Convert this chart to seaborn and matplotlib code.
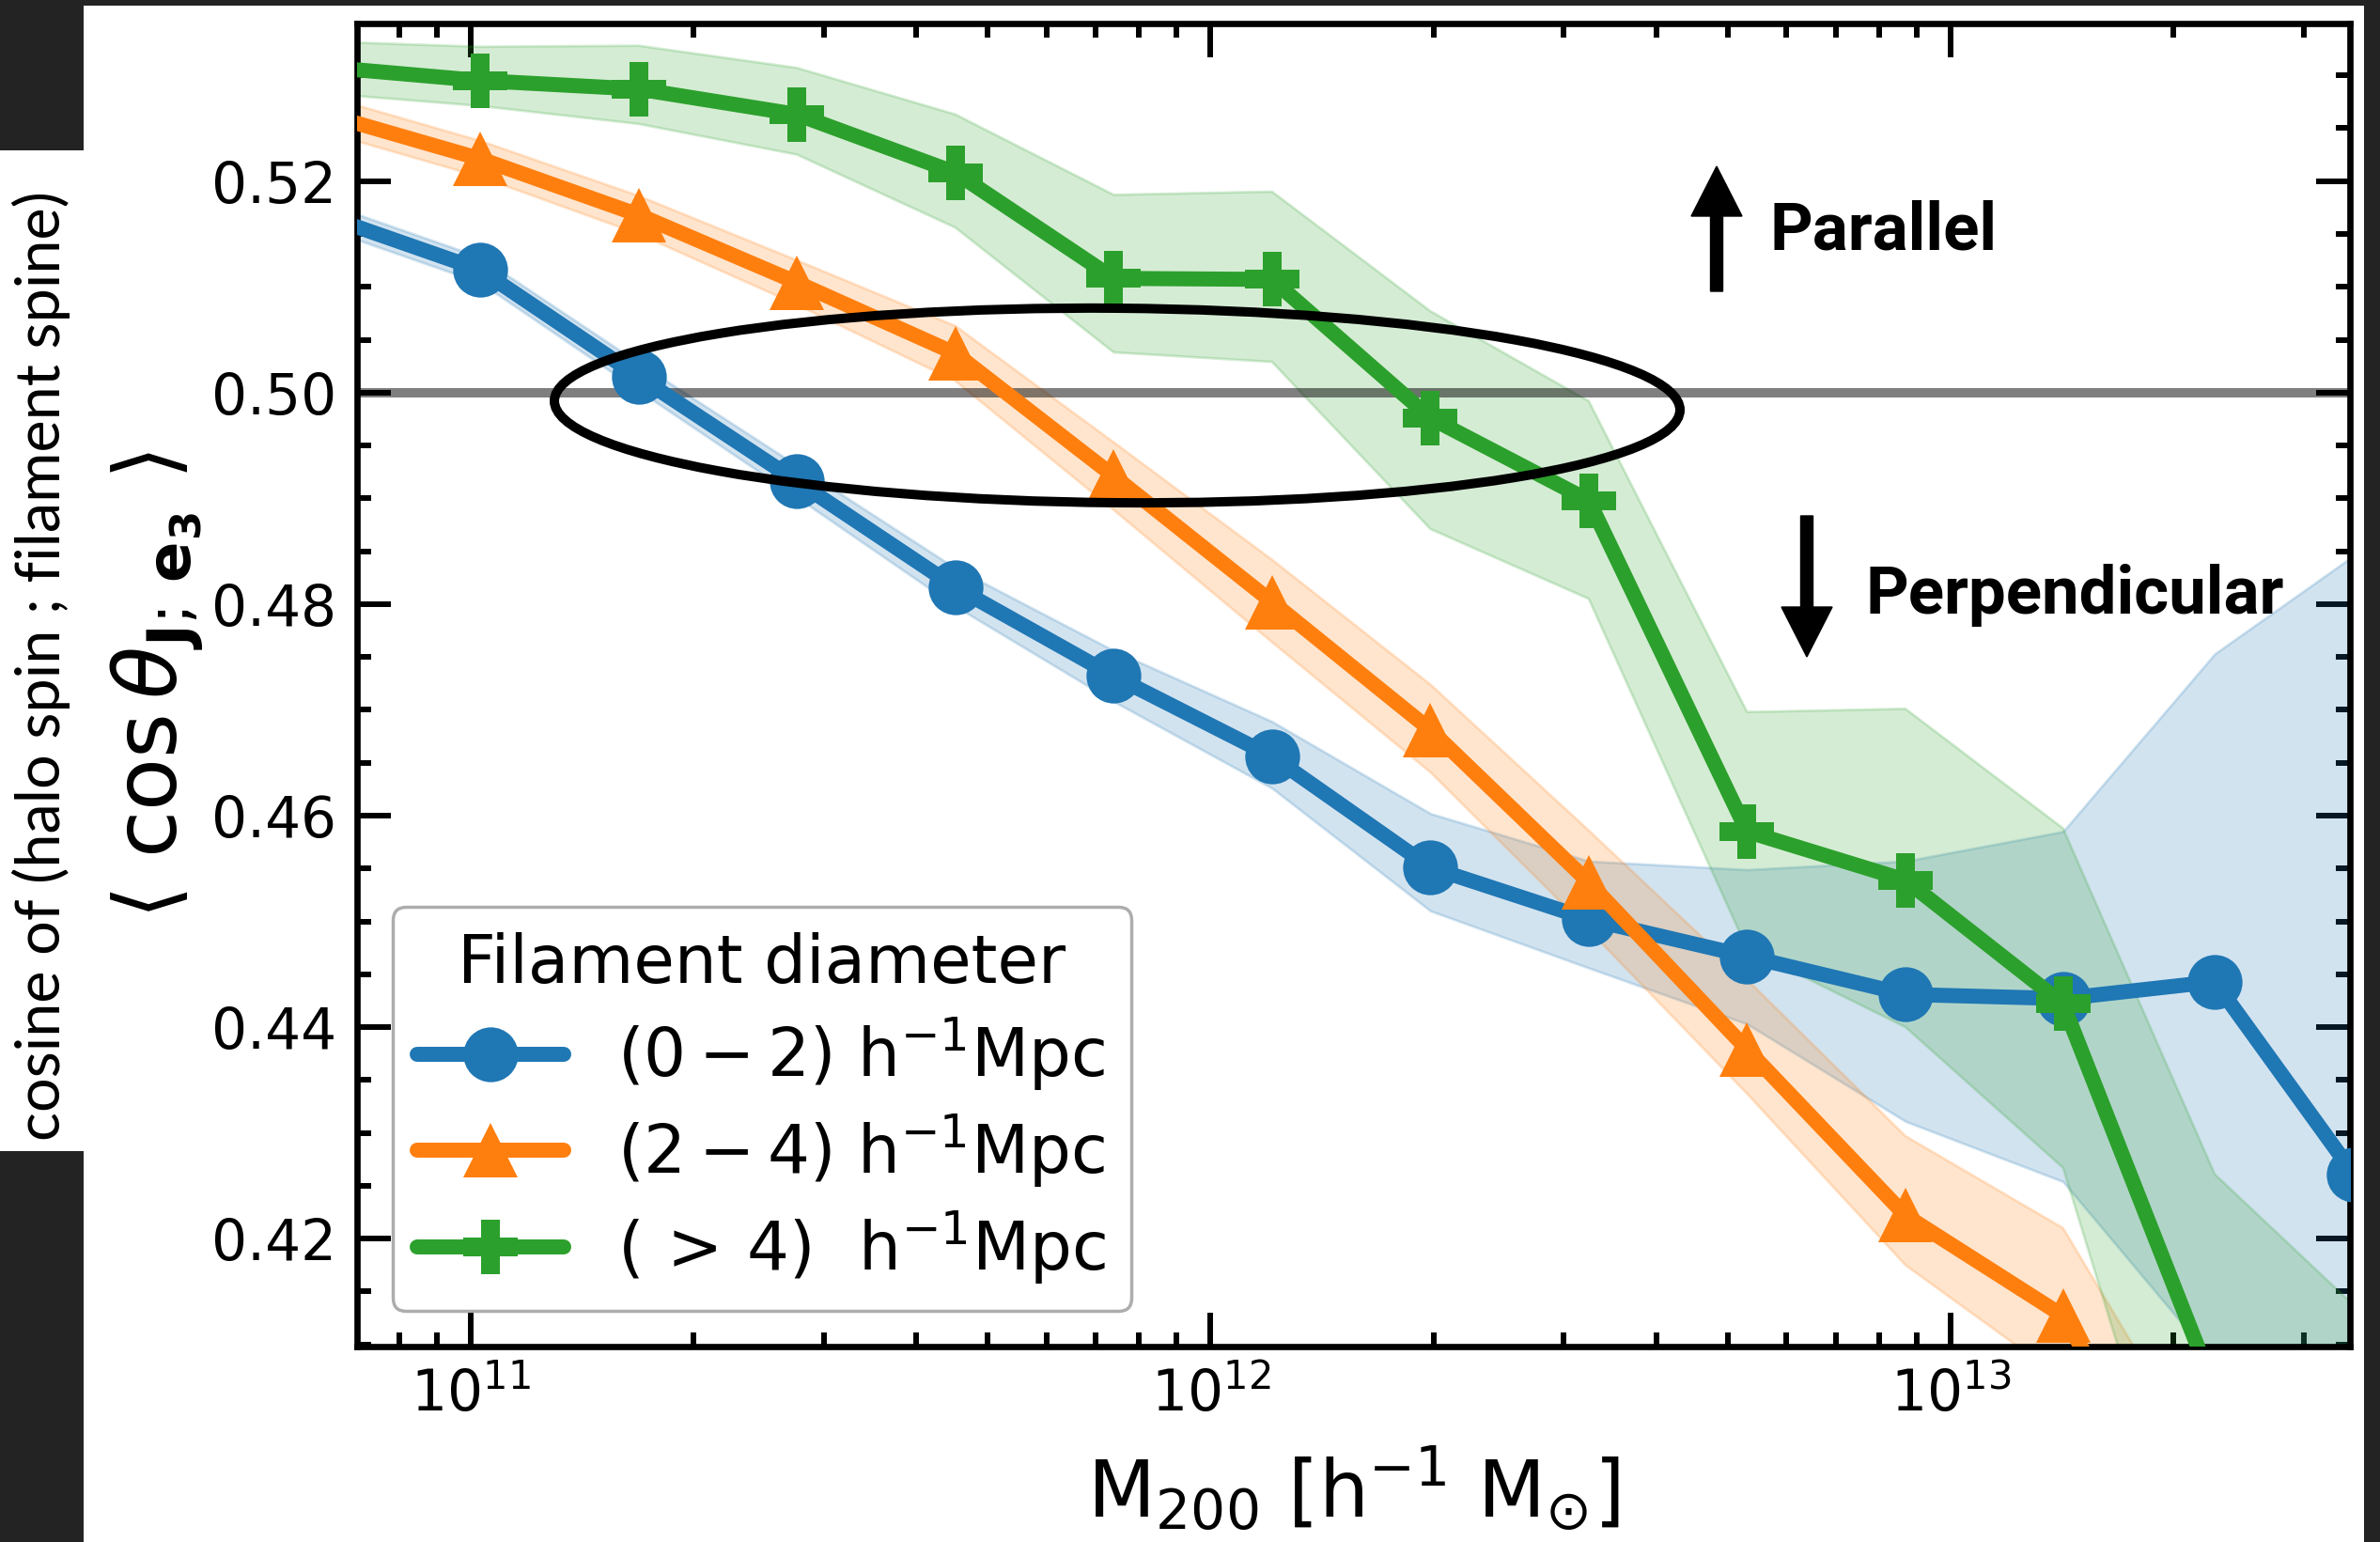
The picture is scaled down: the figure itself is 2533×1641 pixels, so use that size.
import numpy as np
import pandas as pd
import matplotlib
matplotlib.use("Agg")
import matplotlib.pyplot as plt
import seaborn as sns
from matplotlib import font_manager
from matplotlib.patches import Ellipse, FancyArrow, Rectangle
from matplotlib.ticker import MultipleLocator, LogLocator, NullFormatter

# halo mass bins (log10 M200 [h^-1 Msun])
log_m200 = [10.800, 11.013, 11.227, 11.441, 11.655, 11.869, 12.083,
            12.297, 12.511, 12.725, 12.939, 13.152, 13.357, 13.545]

# mean cosine of the spin / spine angle and its band, per filament diameter
thin_mean = [0.5168, 0.5116, 0.5015, 0.4916, 0.4816, 0.4732, 0.4656,
             0.4551, 0.4502, 0.4467, 0.4431, 0.4427, 0.4443, 0.4261]
thin_lo = [0.5156, 0.5104, 0.5002, 0.4901, 0.4798, 0.4708, 0.4626,
           0.4510, 0.4456, 0.4403, 0.4311, 0.4254, 0.4083, 0.3950]
thin_hi = [0.5180, 0.5128, 0.5028, 0.4931, 0.4834, 0.4756, 0.4689,
           0.4602, 0.4557, 0.4549, 0.4557, 0.4585, 0.4753, 0.4846]

mid_mean = [0.5264, 0.5221, 0.5168, 0.5104, 0.5037, 0.4921, 0.4802,
            0.4681, 0.4537, 0.4379, 0.4222, 0.4127, 0.3880, 0.3770]
mid_lo = [0.5247, 0.5204, 0.5150, 0.5083, 0.5011, 0.4889, 0.4764,
          0.4641, 0.4492, 0.4337, 0.4175, 0.4067, 0.3790, 0.3680]
mid_hi = [0.5281, 0.5238, 0.5186, 0.5125, 0.5063, 0.4953, 0.4842,
          0.4724, 0.4586, 0.4445, 0.4297, 0.4210, 0.3970, 0.3850]

thick_mean = [0.5308, 0.5295, 0.5287, 0.5263, 0.5208, 0.5108, 0.5107,
              0.4976, 0.4898, 0.4585, 0.4539, 0.4422, 0.4057, 0.3900]
thick_lo = [0.5283, 0.5271, 0.5254, 0.5225, 0.5156, 0.5038, 0.5029,
            0.4871, 0.4805, 0.4474, 0.4400, 0.4267, 0.3800, 0.3600]
thick_hi = [0.5332, 0.5327, 0.5328, 0.5307, 0.5263, 0.5187, 0.5190,
            0.5077, 0.4992, 0.4698, 0.4701, 0.4588, 0.4261, 0.4137]

diameter_labels = [r"$(0-2)\ \mathrm{h^{-1}Mpc}$",
                   r"$(2-4)\ \mathrm{h^{-1}Mpc}$",
                   r"$(\,>\,4)\ \ \mathrm{h^{-1}Mpc}$"]
colors = ["#1f77b4", "#ff7f0e", "#2ca02c"]
markers = ["o", "^", "P"]

sns.set_style("ticks")
plt.rcParams.update({
    "font.family": ["DejaVu Sans"],
    "mathtext.fontset": "dejavusans",
    "text.color": "black",
    "axes.labelcolor": "black",
    "xtick.color": "black",
    "ytick.color": "black",
    "axes.edgecolor": "black",
})


def pick_family(candidates):
    for fam in candidates:
        try:
            font_manager.findfont(font_manager.FontProperties(family=fam, weight="bold"),
                                  fallback_to_default=False)
            return fam
        except Exception:
            continue
    return "DejaVu Sans"


narrow_family = pick_family(["Liberation Sans Narrow", "Roboto"])
note_size = 56 if narrow_family == "Liberation Sans Narrow" else 51

mass = 10 ** np.array(log_m200)
means = [thin_mean, mid_mean, thick_mean]
lows = [thin_lo, mid_lo, thick_lo]
highs = [thin_hi, mid_hi, thick_hi]

df = pd.concat(
    [pd.DataFrame({"M200": mass, "cos": m, "diameter": lab})
     for m, lab in zip(means, diameter_labels)],
    ignore_index=True,
)

fig = plt.figure(figsize=(25.33, 16.41), dpi=100)
ax = fig.add_axes([0.15002, 0.12675, 0.83735, 0.85802])
ax.set_xscale("log")

for lo, hi, c in zip(lows, highs, colors):
    ax.fill_between(mass, lo, hi, color=c, alpha=0.2, linewidth=2, zorder=1)

ax.axhline(0.5, color="black", alpha=0.5, linewidth=7.2, zorder=1.5)

sns.lineplot(data=df, x="M200", y="cos", hue="diameter", style="diameter",
             hue_order=diameter_labels, style_order=diameter_labels,
             markers=markers, dashes=False, palette=colors,
             linewidth=11.5, markersize=42, markeredgewidth=0,
             sort=False, errorbar=None, legend=False, ax=ax, zorder=3)

ax.set_xlim(10 ** 10.8464, 10 ** 13.5397)
ax.set_ylim(0.4098, 0.5349)

ax.yaxis.set_major_locator(MultipleLocator(0.02))
ax.yaxis.set_minor_locator(MultipleLocator(0.005))
ax.xaxis.set_major_locator(LogLocator(base=10))
ax.xaxis.set_minor_locator(LogLocator(base=10, subs=np.arange(2, 10)))
ax.xaxis.set_minor_formatter(NullFormatter())

ax.tick_params(which="both", direction="in", top=True, right=True)
ax.tick_params(which="major", length=26, width=4.3, labelsize=43, pad=16)
ax.tick_params(which="minor", length=11, width=4.3)
for sp in ax.spines.values():
    sp.set_linewidth(4.8)
    sp.set_visible(True)

ax.set_xlabel(r"$\mathrm{M_{200}\ [h^{-1}\ M_{\odot}]}$", fontsize=60, labelpad=16)
ax.set_ylabel(r"$\langle\ \cos\theta_{\mathbf{J};\,\mathbf{e_3}}\ \rangle$",
              fontsize=66, labelpad=5)

handles = [ln for ln in ax.get_lines() if ln.get_marker() in markers]
leg = ax.legend(handles, diameter_labels, title="Filament diameter",
                loc="lower left", fontsize=51, title_fontsize=51,
                frameon=True, fancybox=True, framealpha=0.8, edgecolor="0.6",
                borderaxespad=0.53, handlelength=2.2, handletextpad=0.8,
                labelspacing=0.28, borderpad=0.38)
leg.get_frame().set_linewidth(2.5)
leg.set_zorder(5)

# annotations in figure inches
ell = Ellipse((11.89, 12.095), 11.98, 2.07, angle=-0.47, fill=False,
              edgecolor="black", linewidth=7.2, transform=fig.dpi_scale_trans,
              zorder=10)
fig.add_artist(ell)
fig.add_artist(FancyArrow(18.27, 13.31, 0, 1.33, width=0.13, head_width=0.54,
                          head_length=0.53, length_includes_head=True,
                          color="black", transform=fig.dpi_scale_trans))
fig.add_artist(FancyArrow(19.23, 10.92, 0, -1.50, width=0.13, head_width=0.54,
                          head_length=0.53, length_includes_head=True,
                          color="black", transform=fig.dpi_scale_trans))
fig.text(1884 / 2533, 1 - 265 / 1641, "Parallel", fontsize=note_size,
         fontweight="bold", family=narrow_family, ha="left", va="baseline")
fig.text(1985 / 2533, 1 - 653 / 1641, "Perpendicular", fontsize=note_size,
         fontweight="bold", family=narrow_family, ha="left", va="baseline")

# dark frame pieces and the side caption
dark = "#232323"
W, H = 2533, 1641
for (x0, y0, x1, y1) in [(0, 0, W, 6), (0, 0, 89, 160), (0, 1225, 89, H),
                         (2516, 0, W, H)]:
    fig.add_artist(Rectangle((x0 / W, 1 - y1 / H), (x1 - x0) / W, (y1 - y0) / H,
                             transform=fig.transFigure, facecolor=dark,
                             edgecolor="none", zorder=20))
fig.text(43.5 / W, 1 - 708.5 / H, "cosine of (halo spin ; filament spine)",
         rotation=90, ha="center", va="center", fontsize=46.6, family="Lato")

fig.savefig("out.png", dpi=100)
